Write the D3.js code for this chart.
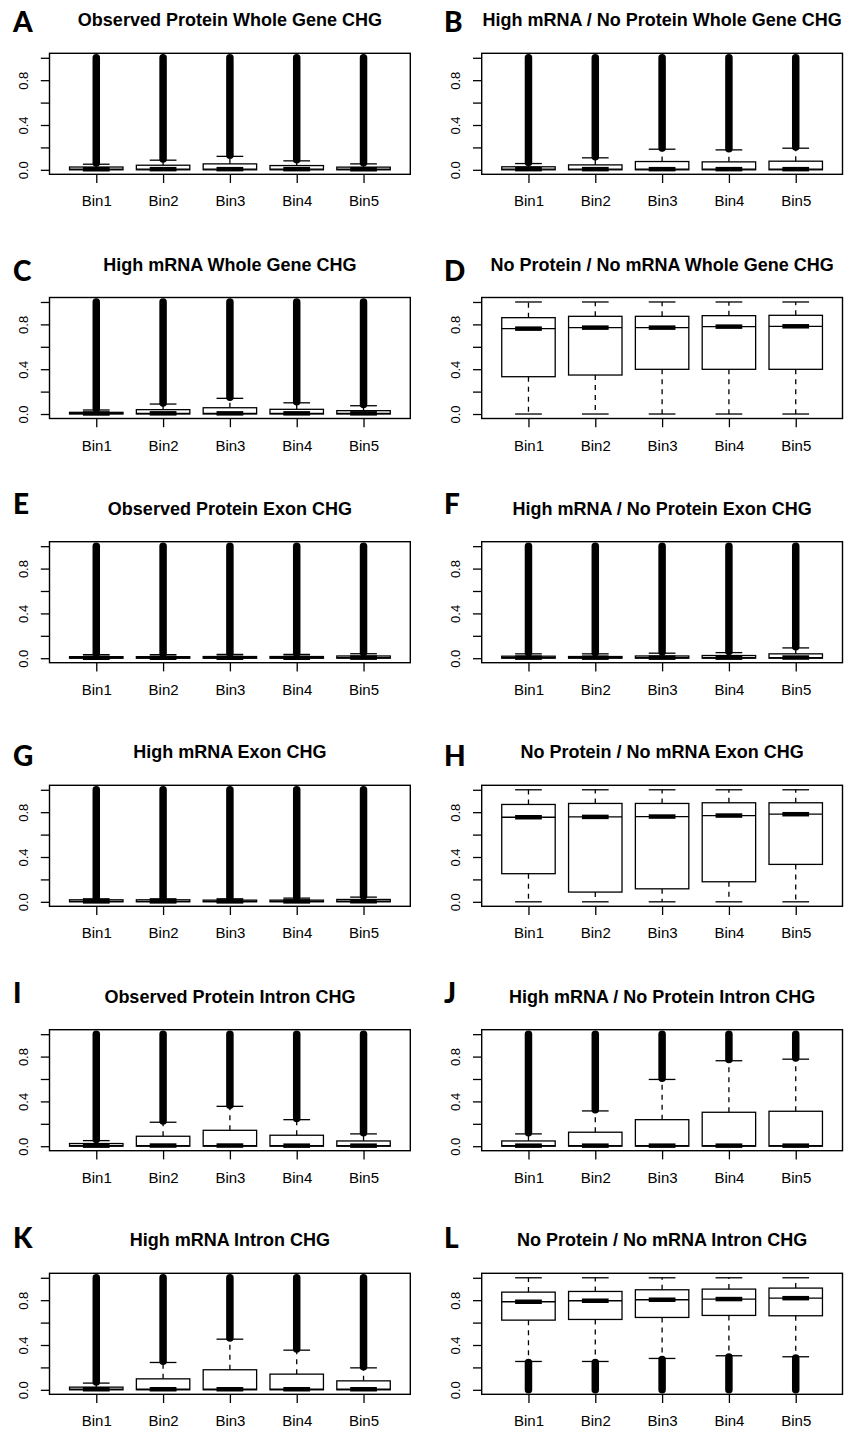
<!DOCTYPE html>
<html>
<head>
<meta charset="utf-8">
<script src="https://cdn.jsdelivr.net/npm/d3@7"></script>
<style>
  body { margin: 0; background: #fff; }
  svg { display: block; }
</style>
</head>
<body>
<svg id="fig" width="849" height="1429"></svg>
<script>
// ---- Categories, ticks and panel captions ----
const bins = ["Bin1", "Bin2", "Bin3", "Bin4", "Bin5"];
const yTicks = [0, 0.2, 0.4, 0.6, 0.8, 1.0];
const yTickLabels = ["0.0", "", "0.4", "", "0.8", ""];
const panelLetters = ["A", "B", "C", "D", "E", "F", "G", "H", "I", "J", "K", "L"];
const panelTitles = [
  "Observed Protein Whole Gene CHG", "High mRNA / No Protein Whole Gene CHG",
  "High mRNA Whole Gene CHG", "No Protein / No mRNA Whole Gene CHG",
  "Observed Protein Exon CHG", "High mRNA / No Protein Exon CHG",
  "High mRNA Exon CHG", "No Protein / No mRNA Exon CHG",
  "Observed Protein Intron CHG", "High mRNA / No Protein Intron CHG",
  "High mRNA Intron CHG", "No Protein / No mRNA Intron CHG"
];

// ---- Box statistics per panel (CHG methylation level, Bin1..Bin5) ----
// outliers: [lowest, highest] extent of the outlying points in each bin
const statsA = {
  q1: [0, 0, 0, 0, 0], median: [0.005, 0.006, 0.006, 0.006, 0.005],
  q3: [0.025, 0.041, 0.053, 0.038, 0.024],
  whiskerLow: [0, 0, 0, 0, 0], whiskerHigh: [0.05, 0.086, 0.12, 0.08, 0.053],
  outliers: [[0.06, 1], [0.096, 1], [0.13, 1], [0.09, 1], [0.063, 1]]
};
const statsB = {
  q1: [0, 0, 0, 0, 0], median: [0.006, 0.006, 0.006, 0.006, 0.006],
  q3: [0.027, 0.044, 0.074, 0.071, 0.077],
  whiskerLow: [0, 0, 0, 0, 0], whiskerHigh: [0.056, 0.107, 0.184, 0.178, 0.193],
  outliers: [[0.066, 1], [0.117, 1], [0.194, 1], [0.188, 1], [0.203, 1]]
};
const statsC = {
  q1: [0, 0, 0, 0, 0], median: [0.005, 0.006, 0.006, 0.006, 0.006],
  q3: [0.015, 0.039, 0.056, 0.042, 0.03],
  whiskerLow: [0, 0, 0, 0, 0], whiskerHigh: [0.036, 0.089, 0.14, 0.10, 0.074],
  outliers: [[0.046, 1], [0.099, 1], [0.15, 1], [0.11, 1], [0.084, 1]]
};
const statsD = {
  q1: [0.333, 0.348, 0.399, 0.399, 0.399], median: [0.762, 0.771, 0.771, 0.78, 0.783],
  q3: [0.86, 0.872, 0.872, 0.878, 0.881],
  whiskerLow: [0, 0, 0, 0, 0], whiskerHigh: [1, 1, 1, 1, 1],
  outliers: []
};
const statsE = {
  q1: [0, 0, 0, 0, 0], median: [0.004, 0.004, 0.004, 0.004, 0.005],
  q3: [0.014, 0.014, 0.015, 0.015, 0.02],
  whiskerLow: [0, 0, 0, 0, 0], whiskerHigh: [0.032, 0.032, 0.034, 0.034, 0.04],
  outliers: [[0.042, 1], [0.042, 1], [0.044, 1], [0.044, 1], [0.05, 1]]
};
const statsF = {
  q1: [0, 0, 0, 0, 0], median: [0.005, 0.005, 0.005, 0.005, 0.006],
  q3: [0.018, 0.015, 0.02, 0.024, 0.039],
  whiskerLow: [0, 0, 0, 0, 0], whiskerHigh: [0.039, 0.039, 0.045, 0.05, 0.092],
  outliers: [[0.049, 1], [0.049, 1], [0.055, 1], [0.06, 1], [0.102, 1]]
};
const statsG = {
  q1: [0, 0, 0, 0, 0], median: [0.004, 0.004, 0.004, 0.004, 0.005],
  q3: [0.018, 0.018, 0.015, 0.015, 0.021],
  whiskerLow: [0, 0, 0, 0, 0], whiskerHigh: [0.027, 0.027, 0.027, 0.033, 0.042],
  outliers: [[0.037, 1], [0.037, 1], [0.037, 1], [0.043, 1], [0.052, 1]]
};
const statsH = {
  q1: [0.251, 0.087, 0.116, 0.179, 0.334], median: [0.755, 0.758, 0.761, 0.77, 0.782],
  q3: [0.869, 0.878, 0.878, 0.884, 0.884],
  whiskerLow: [0, 0, 0, 0, 0], whiskerHigh: [1, 1, 1, 1, 1],
  outliers: []
};
const statsI = {
  q1: [0, 0, 0, 0, 0], median: [0.005, 0.006, 0.006, 0.005, 0.005],
  q3: [0.024, 0.089, 0.142, 0.098, 0.047],
  whiskerLow: [0, 0, 0, 0, 0], whiskerHigh: [0.05, 0.214, 0.356, 0.237, 0.11],
  outliers: [[0.06, 1], [0.224, 1], [0.366, 1], [0.247, 1], [0.12, 1]]
};
const statsJ = {
  q1: [0, 0, 0, 0, 0], median: [0.005, 0.005, 0.005, 0.005, 0.005],
  q3: [0.047, 0.125, 0.237, 0.303, 0.312],
  whiskerLow: [0, 0, 0, 0, 0], whiskerHigh: [0.11, 0.315, 0.596, 0.763, 0.777],
  outliers: [[0.12, 1], [0.325, 1], [0.606, 1], [0.773, 1], [0.787, 1]]
};
const statsK = {
  q1: [0, 0, 0, 0, 0], median: [0.005, 0.005, 0.005, 0.005, 0.005],
  q3: [0.024, 0.098, 0.179, 0.14, 0.08],
  whiskerLow: [0, 0, 0, 0, 0], whiskerHigh: [0.06, 0.244, 0.452, 0.354, 0.196],
  outliers: [[0.07, 1], [0.254, 1], [0.462, 1], [0.364, 1], [0.206, 1]]
};
const statsL = {
  q1: [0.622, 0.628, 0.646, 0.664, 0.661], median: [0.786, 0.795, 0.804, 0.81, 0.818],
  q3: [0.872, 0.878, 0.893, 0.899, 0.908],
  whiskerLow: [0.253, 0.253, 0.28, 0.304, 0.295], whiskerHigh: [1, 1, 1, 1, 1],
  outliers: [[0, 0.243], [0, 0.243], [0, 0.27], [0, 0.294], [0, 0.285]]
};
const panelStats = [statsA, statsB, statsC, statsD, statsE, statsF,
                    statsG, statsH, statsI, statsJ, statsK, statsL];

// ---- Layout ----
const colLeft = [49.5, 481.7];
const frameW = 360.8;
const frameH = 121;
const rowTop = [53.3, 297.5, 541.7, 785.3, 1029.7, 1273.3];
const letterX = [13, 444];
const letterBaseline = [31.7, 280.5, 514.3, 766, 1002.5, 1248];
const font = "'Liberation Sans', Arial, Helvetica, sans-serif";
const lw = 1.3;

const svg = d3.select("#fig");
svg.append("rect").attr("width", 849).attr("height", 1429).attr("fill", "#fff");

panelStats.forEach((s, p) => {
  const col = p % 2, row = Math.floor(p / 2);
  const left = colLeft[col], top = rowTop[row];
  const x = d3.scaleLinear().domain([0.3, 5.7]).range([left, left + frameW]);
  const y = d3.scaleLinear().domain([-0.04, 1.04]).range([top + frameH, top]);
  const g = svg.append("g");

  // panel letter and title
  g.append("text")
    .attr("x", letterX[col]).attr("y", letterBaseline[row])
    .attr("font-family", "Lato, 'Open Sans', sans-serif")
    .attr("font-weight", 900).attr("font-size", 28)
    .attr("fill", "#000")
    .text(panelLetters[p]);
  g.append("text")
    .attr("x", left + frameW / 2).attr("y", top - 27)
    .attr("text-anchor", "middle")
    .attr("font-family", font).attr("font-weight", "bold").attr("font-size", 18)
    .attr("fill", "#000")
    .text(panelTitles[p]);

  // y axis
  const ya = g.append("g").attr("transform", `translate(${left},0)`)
    .call(d3.axisLeft(y).tickValues(yTicks).tickSize(8.7).tickSizeOuter(0)
      .tickFormat((d, i) => yTickLabels[i]));
  ya.select(".domain").remove();
  ya.selectAll("line").attr("stroke", "#000").attr("stroke-width", lw);
  ya.selectAll("text")
    .attr("x", null).attr("dy", null)
    .attr("transform", "translate(-22,0) rotate(-90)")
    .attr("text-anchor", "middle")
    .attr("font-family", font).attr("font-size", 13).attr("fill", "#000");

  // x axis
  const xa = g.append("g").attr("transform", `translate(0,${top + frameH})`)
    .call(d3.axisBottom(x).tickValues([1, 2, 3, 4, 5]).tickSize(8.7).tickSizeOuter(0)
      .tickFormat(d => bins[d - 1]));
  xa.select(".domain").remove();
  xa.selectAll("line").attr("stroke", "#000").attr("stroke-width", lw);
  xa.selectAll("text")
    .attr("y", 32).attr("dy", null)
    .attr("font-family", font).attr("font-size", 15).attr("fill", "#000");

  // boxes
  bins.forEach((b, i) => {
    const c = i + 1;
    const bg = g.append("g").attr("stroke", "#000").attr("fill", "none");
    // whiskers (dashed)
    bg.append("line").attr("x1", x(c)).attr("x2", x(c))
      .attr("y1", y(s.q3[i])).attr("y2", y(s.whiskerHigh[i]))
      .attr("stroke-width", lw).attr("stroke-dasharray", "5,5");
    bg.append("line").attr("x1", x(c)).attr("x2", x(c))
      .attr("y1", y(s.q1[i])).attr("y2", y(s.whiskerLow[i]))
      .attr("stroke-width", lw).attr("stroke-dasharray", "5,5");
    // staples
    [s.whiskerHigh[i], s.whiskerLow[i]].forEach(v => {
      bg.append("line").attr("x1", x(c - 0.2)).attr("x2", x(c + 0.2))
        .attr("y1", y(v)).attr("y2", y(v)).attr("stroke-width", lw);
    });
    // box
    bg.append("rect")
      .attr("x", x(c - 0.4)).attr("width", x(c + 0.4) - x(c - 0.4))
      .attr("y", y(s.q3[i])).attr("height", Math.max(0, y(s.q1[i]) - y(s.q3[i])))
      .attr("fill", "#fff").attr("stroke-width", lw);
    // median
    bg.append("line").attr("x1", x(c - 0.4)).attr("x2", x(c + 0.4))
      .attr("y1", y(s.median[i])).attr("y2", y(s.median[i])).attr("stroke-width", lw);
    bg.append("line").attr("x1", x(c - 0.2)).attr("x2", x(c + 0.2))
      .attr("y1", y(s.median[i])).attr("y2", y(s.median[i])).attr("stroke-width", 4.5);
    // outlying points, packed into a solid column
    if (s.outliers[i]) {
      const [lo, hi] = s.outliers[i];
      bg.append("line").attr("x1", x(c)).attr("x2", x(c))
        .attr("y1", y(lo)).attr("y2", y(hi))
        .attr("stroke-width", 7.5).attr("stroke-linecap", "round");
    }
  });

  // plot frame
  g.append("rect")
    .attr("x", left).attr("y", top).attr("width", frameW).attr("height", frameH)
    .attr("fill", "none").attr("stroke", "#000").attr("stroke-width", 1.4);
});
</script>
</body>
</html>
